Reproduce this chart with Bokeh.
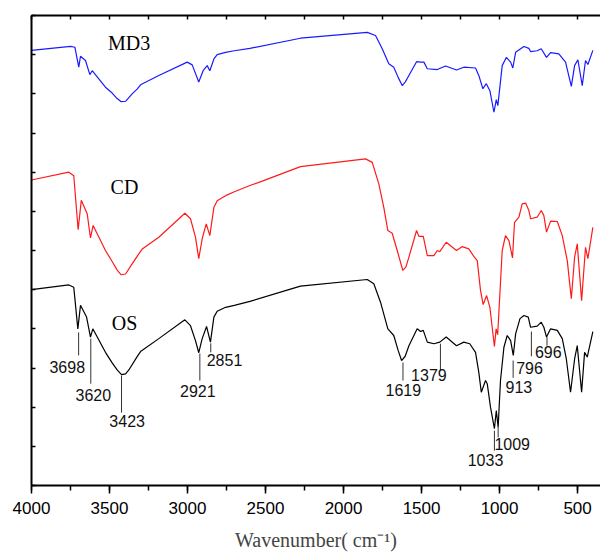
from bokeh.plotting import figure
from bokeh.models import Range1d, LinearAxis, FixedTicker
from bokeh.core.properties import value
from bokeh.embed import file_html
from bokeh.resources import INLINE

# ---------------- data ----------------
md3_wn = [4000, 3750, 3722, 3697, 3686, 3654, 3626, 3611, 3526, 3483, 3451, 3425, 3397, 3355, 3323, 3301,
          3184, 3002, 2970, 2928, 2900, 2874, 2857, 2831, 2810, 2756, 2700, 2600, 2276, 1848, 1795, 1752,
          1710, 1678, 1650, 1624, 1605, 1581, 1532, 1506, 1485, 1463, 1399, 1346, 1276, 1229, 1154, 1133,
          1107, 1085, 1062, 1036, 1021, 1011, 983, 957, 929, 915, 897, 844, 812, 801, 759, 733,
          699, 673, 620, 577, 540, 519, 498, 470, 449, 434, 402]
md3_y = [11.11, 11.21, 11.19, 10.68, 10.96, 10.85, 10.49, 10.59, 10.17, 10.02, 9.88, 9.80, 9.81, 10.0, 10.12, 10.23,
         10.47, 10.81, 10.74, 10.30, 10.59, 10.72, 10.59, 10.89, 11.00, 11.06, 11.10, 11.16, 11.42, 11.57, 11.49, 11.15,
         10.77, 10.68, 10.42, 10.21, 10.30, 10.47, 10.82, 10.81, 10.81, 10.64, 10.62, 10.71, 10.61, 10.68, 10.66, 10.47,
         10.13, 10.26, 10.08, 9.53, 9.85, 9.70, 10.72, 10.93, 10.81, 10.66, 11.06, 11.21, 11.16, 11.08, 11.10, 11.15,
         10.93, 11.05, 11.02, 10.81, 10.19, 10.72, 10.87, 10.21, 10.85, 10.75, 11.11]

cd_wn = [4000, 3761, 3729, 3701, 3681, 3643, 3622, 3605, 3526, 3483, 3451, 3425, 3397, 3355, 3323, 3290,
         3184, 3017, 2981, 2949, 2928, 2906, 2880, 2857, 2831, 2810, 2756, 2700, 2600, 2521, 2276, 1859, 1816,
         1774, 1742, 1716, 1688, 1656, 1620, 1600, 1581, 1532, 1517, 1489, 1463, 1421, 1399, 1383, 1342,
         1276, 1239, 1197, 1165, 1143, 1122, 1105, 1083, 1062, 1033, 1022, 1012, 983, 962, 940,
         917, 904, 876, 855, 833, 812, 801, 759, 733, 716, 699, 673, 630, 598, 566, 540, 519,
         502, 474, 449, 434, 402]
cd_y = [7.80, 8.00, 7.91, 6.53, 7.28, 6.94, 6.32, 6.64, 6.00, 5.72, 5.50, 5.38, 5.40, 5.66, 5.85, 6.04,
        6.34, 6.95, 6.81, 6.34, 5.79, 6.30, 6.68, 6.38, 7.10, 7.27, 7.40, 7.50, 7.66, 7.77, 8.14, 8.34, 8.25,
        7.70, 7.10, 6.51, 6.44, 6.00, 5.49, 5.58, 5.83, 6.51, 6.36, 6.36, 5.87, 5.87, 6.00, 5.97, 6.21,
        6.00, 6.10, 6.04, 5.85, 5.74, 4.98, 4.62, 4.85, 4.55, 3.55, 4.00, 3.85, 6.00, 6.38, 6.25,
        5.81, 6.72, 6.85, 7.19, 7.21, 7.02, 6.81, 6.85, 7.02, 6.89, 6.47, 6.75, 6.74, 6.38, 5.74, 4.77, 5.83,
        6.17, 4.72, 6.08, 5.79, 6.59]

os_wn = [4000, 3761, 3729, 3703, 3686, 3647, 3622, 3607, 3526, 3483, 3451, 3423, 3397, 3376, 3323, 3301,
         3184, 3017, 2981, 2949, 2928, 2906, 2878, 2853, 2831, 2810, 2756, 2700, 2600, 2351, 2276, 1848, 1806,
         1763, 1716, 1678, 1650, 1628, 1605, 1581, 1528, 1506, 1489, 1463, 1421, 1383, 1342, 1276, 1229, 1191,
         1154, 1133, 1117, 1090, 1079, 1058, 1033, 1021, 1009, 994, 972, 951, 929, 912, 897, 869,
         844, 816, 801, 759, 733, 716, 699, 673, 630, 598, 572, 545, 519, 502, 474, 455, 438, 402]
os_y = [5.00, 5.12, 5.06, 4.00, 4.60, 4.30, 3.79, 4.00, 3.40, 3.13, 2.95, 2.83, 2.85, 2.95, 3.29, 3.42,
        3.75, 4.23, 4.08, 3.70, 3.39, 3.75, 4.06, 3.66, 4.30, 4.45, 4.55, 4.60, 4.70, 5.00, 5.09, 5.26, 5.15,
        4.68, 4.00, 3.83, 3.45, 3.19, 3.30, 3.57, 4.00, 3.93, 3.96, 3.66, 3.62, 3.66, 3.79, 3.57, 3.66, 3.62,
        3.40, 2.89, 2.38, 2.68, 2.60, 2.00, 1.45, 1.91, 1.49, 2.68, 3.53, 3.83, 3.70, 3.32, 3.87, 4.26,
        4.34, 4.30, 4.04, 4.07, 4.17, 4.04, 3.79, 4.00, 3.96, 3.75, 3.23, 2.38, 3.23, 3.57, 2.38, 3.40, 3.28, 3.93]

series_names = ["MD3", "CD", "OS"]
name_wn = [3374, 3404, 3404]
name_y = [11.30, 7.63, 4.14]

peak_labels = ["3698", "3620", "3423", "2921", "2851", "1619", "1379", "1033", "1009", "913", "796", "696"]
peak_wn = [3698, 3620, 3423, 2921, 2851, 1619, 1379, 1033, 1009, 913, 796, 696]
peak_top = [3.91, 3.75, 2.81, 3.37, 3.63, 3.14, 3.62, 1.40, 1.49, 3.19, 3.93, 3.79]
peak_bot = [3.32, 2.60, 1.86, 2.68, 3.40, 2.68, 2.94, 0.89, 1.23, 2.75, 3.30, 3.57]
label_wn = [3771, 3604, 3387, 2934, 2763, 1617, 1453, 1090, 919, 876, 808, 688]
label_y = [3.02, 2.32, 1.64, 2.41, 3.21, 2.43, 2.83, 0.66, 1.06, 2.51, 2.99, 3.40]

x_ticks = [4000, 3500, 3000, 2500, 2000, 1500, 1000, 500]
x_minor = [4000 - 250 * i for i in range(0, 15)]
y_ticks = list(range(0, 13))

# ---------------- figure ----------------
p = figure(width=600, height=553, output_backend="svg", toolbar_location=None,
           x_range=Range1d(4000, 353), y_range=Range1d(0, 12),
           x_axis_location=None, y_axis_location=None)
p.min_border_left = 31
p.min_border_top = 15
p.min_border_right = 0
p.min_border_bottom = 68
p.outline_line_color = None
p.xgrid.visible = False
p.ygrid.visible = False
p.background_fill_color = "white"
p.border_fill_color = "white"

bottom = LinearAxis(ticker=FixedTicker(ticks=x_ticks, minor_ticks=x_minor),
                    axis_label="Wavenumber( cm\u207B\u00B9)")
bottom.axis_line_width = 2
bottom.major_tick_line_width = 1.5
bottom.minor_tick_line_width = 1.5
bottom.major_tick_in = 0
bottom.major_tick_out = 8
bottom.minor_tick_in = 0
bottom.minor_tick_out = 5
bottom.major_label_standoff = 8
bottom.major_label_text_font = "Liberation Sans"
bottom.major_label_text_font_size = "17px"
bottom.major_label_text_color = "black"
bottom.axis_label_text_font = "Liberation Serif"
bottom.axis_label_text_font_size = "20px"
bottom.axis_label_text_font_style = "normal"
bottom.axis_label_standoff = 12
p.add_layout(bottom, "below")

top = LinearAxis(ticker=FixedTicker(ticks=x_minor))
top.axis_line_width = 2
top.major_tick_in = 4
top.major_tick_out = 0
top.major_tick_line_width = 1.5
top.major_label_text_font_size = "0px"
top.major_label_text_color = None
top.major_label_standoff = 0
p.add_layout(top, "above")

left = LinearAxis(ticker=FixedTicker(ticks=y_ticks))
left.axis_line_width = 2
left.major_tick_in = 4
left.major_tick_out = 0
left.major_tick_line_width = 1.5
left.major_label_text_font_size = "0px"
left.major_label_text_color = None
left.major_label_standoff = 0
p.add_layout(left, "left")

# spectra
p.line(md3_wn, md3_y, line_color="#1a1aff", line_width=1.2)
p.line(cd_wn, cd_y, line_color="#ff1a1a", line_width=1.2)
p.line(os_wn, os_y, line_color="black", line_width=1.2)

# series names
p.text(x=name_wn, y=name_y, text=series_names, text_font=value("Liberation Serif"),
       text_font_size="20px", text_align="center", text_baseline="middle", text_color="black")

# peak marks
p.segment(x0=peak_wn, y0=peak_top, x1=peak_wn, y1=peak_bot, line_color="#333333", line_width=1)
p.text(x=label_wn, y=label_y, text=peak_labels, text_font=value("Liberation Sans"),
       text_font_size="16px", text_align="center", text_baseline="middle", text_color="#111111")

open("out.html", "w").write(file_html(p, INLINE))
